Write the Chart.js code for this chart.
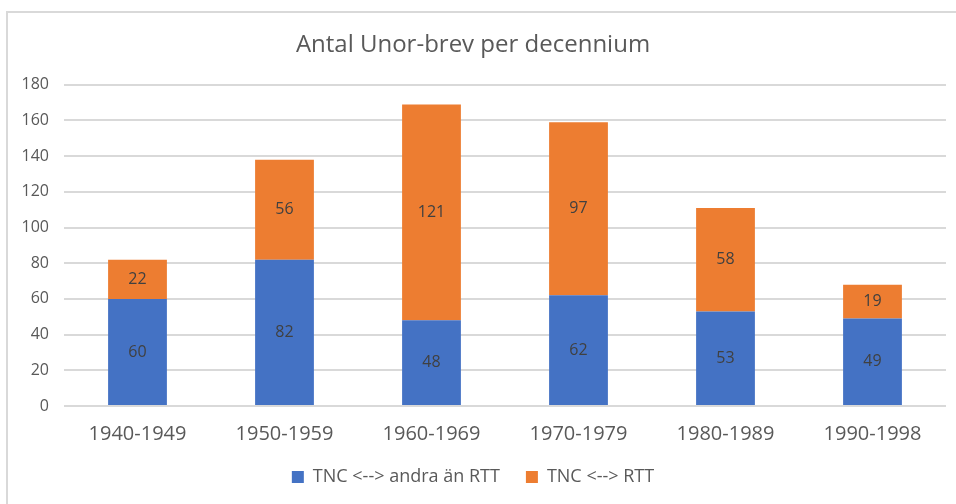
<!DOCTYPE html>
<html>
<head>
<meta charset="utf-8">
<script src="https://cdn.jsdelivr.net/npm/chart.js@4/dist/chart.umd.min.js"></script>
<style>
  html, body { margin: 0; padding: 0; background: #fff; }
  #wrap { position: relative; width: 956px; height: 504px; overflow: hidden; }
  #frame { position: absolute; left: 6px; top: 11px; width: 1000px; height: 600px;
           border-left: 2px solid #d9d9d9; border-top: 2px solid #d9d9d9; }
  canvas { position: absolute; left: 0; top: 0; }
</style>
</head>
<body>
<div id="wrap">
  <div id="frame"></div>
  <canvas id="myChart" width="956" height="504"></canvas>
</div>
<script>
const decades = ["1940-1949", "1950-1959", "1960-1969", "1970-1979", "1980-1989", "1990-1998"];
const andraAnRtt = [60, 82, 48, 62, 53, 49];
const rtt = [22, 56, 121, 97, 58, 19];
const yTicks = [0, 20, 40, 60, 80, 100, 120, 140, 160, 180];

const FONT = "'Open Sans', 'Liberation Sans', sans-serif";
const TEXT = "#595959";

// draws the value in the middle of each bar segment
const barValues = {
  id: "barValues",
  afterDatasetsDraw(chart) {
    const ctx = chart.ctx;
    ctx.save();
    ctx.font = "16px " + FONT;
    ctx.fillStyle = "#404040";
    ctx.textAlign = "center";
    ctx.textBaseline = "middle";
    chart.data.datasets.forEach(function (ds, i) {
      chart.getDatasetMeta(i).data.forEach(function (bar, j) {
        const mid = (bar.y + bar.base) / 2;
        ctx.fillText(ds.data[j], bar.x, mid);
      });
    });
    ctx.restore();
  },
};

const ctx = document.getElementById("myChart");

var chart = new Chart(ctx, {
  type: "bar",
  data: {
    labels: decades,
    datasets: [
      {
        label: "TNC <--> andra än RTT",
        data: andraAnRtt,
        backgroundColor: "#4472C4",
        categoryPercentage: 1,
        barPercentage: 0.4,
      },
      {
        label: "TNC <--> RTT",
        data: rtt,
        backgroundColor: "#ED7D31",
        categoryPercentage: 1,
        barPercentage: 0.4,
      },
    ],
  },
  options: {
    responsive: false,
    animation: false,
    layout: { padding: { left: 0, right: 10, top: 0, bottom: 8 } },
    plugins: {
      title: {
        display: true,
        text: "Antal Unor-brev per decennium",
        color: TEXT,
        font: { family: FONT, size: 24, weight: "normal" },
        padding: { top: 31, bottom: 25 },
      },
      legend: {
        position: "bottom",
        labels: {
          color: TEXT,
          font: { family: FONT, size: 18 },
          boxWidth: 12,
          boxHeight: 12,
          padding: 26,
        },
      },
      tooltip: { enabled: false },
    },
    scales: {
      x: {
        stacked: true,
        grid: { display: false, drawTicks: false },
        border: { display: false },
        ticks: { color: TEXT, font: { family: FONT, size: 20 }, padding: 16, maxRotation: 0 },
        afterFit(scale) {
          scale.height = 36;
        },
      },
      y: {
        stacked: true,
        min: 0,
        max: 180,
        afterBuildTicks(scale) {
          scale.ticks = yTicks.map((v) => ({ value: v }));
        },
        afterFit(scale) {
          scale.width = 64;
        },
        grid: { color: "#d9d9d9", lineWidth: 2, drawTicks: false },
        border: { display: false },
        ticks: { color: TEXT, font: { family: FONT, size: 16 }, padding: 15 },
      },
    },
  },
  plugins: [barValues],
});
</script>
</body>
</html>
